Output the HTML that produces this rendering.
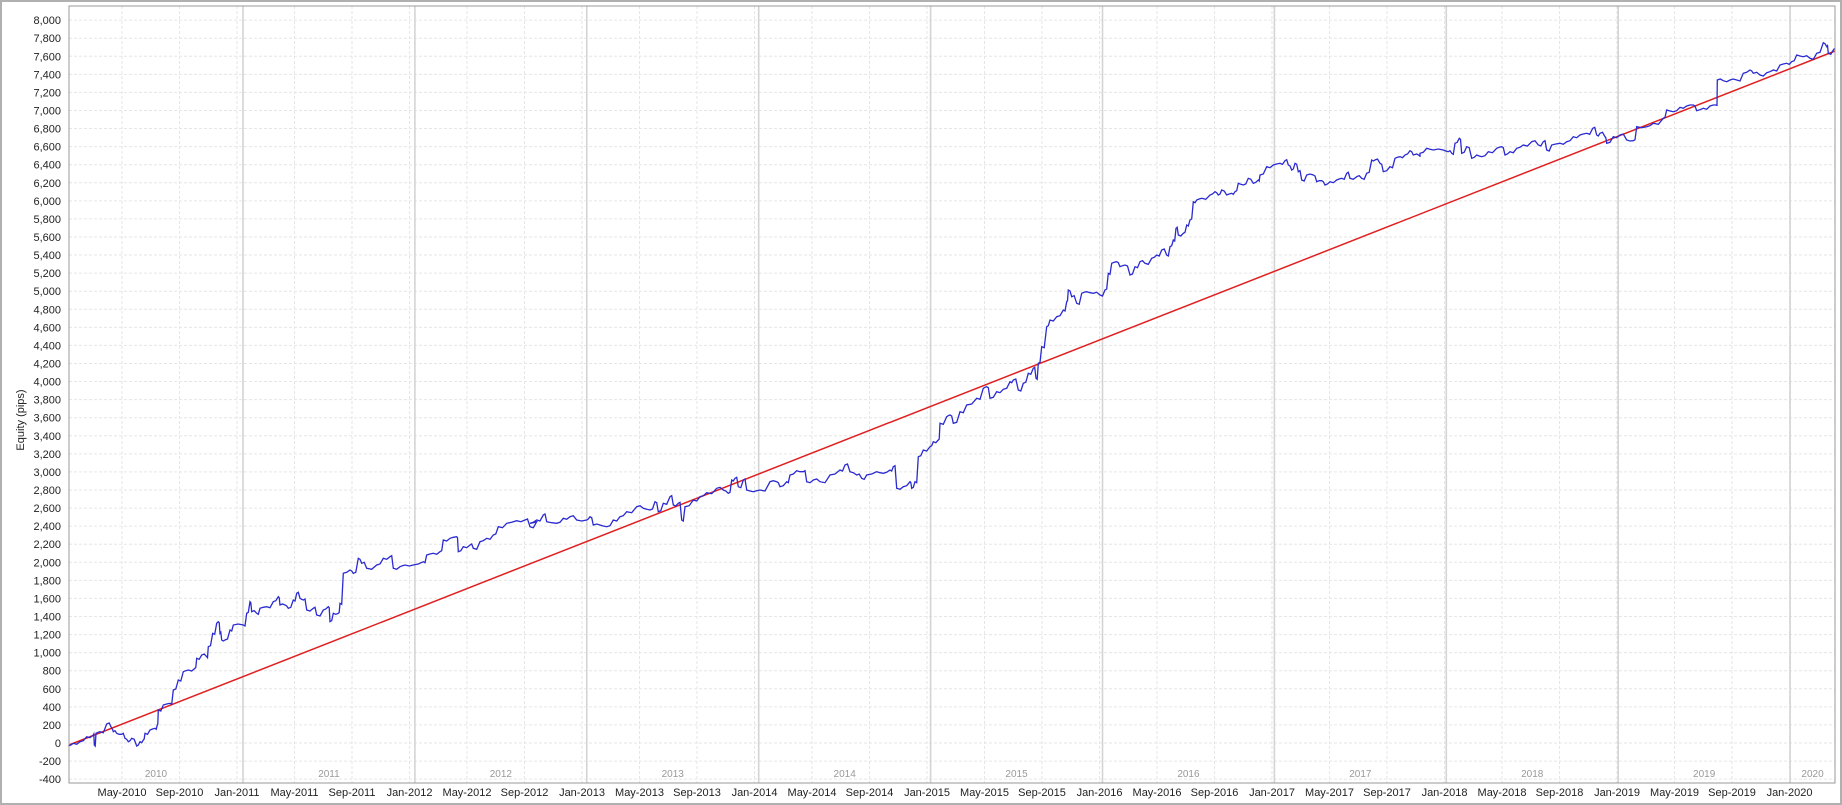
<!DOCTYPE html>
<html><head><meta charset="utf-8"><style>
html,body{margin:0;padding:0;background:#fff;}
svg{display:block;font-family:"Liberation Sans",Arial,sans-serif;}
</style></head><body>
<svg id="s" width="1842" height="805" viewBox="0 0 1842 805" xmlns="http://www.w3.org/2000/svg">
<rect x="0" y="0" width="1842" height="805" fill="#fff"/>
<rect x="1" y="1" width="1840" height="803" fill="none" stroke="#b0b0b0" stroke-width="2"/>
<g id="grid"></g>
<g id="ylab" font-size="11" fill="#222" text-anchor="end"></g>
<g id="xlab" font-size="11" fill="#222" text-anchor="middle"></g>
<g id="yrlab" font-size="10" fill="#999" text-anchor="middle"></g>
<text x="24" y="420" font-size="11" fill="#222" text-anchor="middle" transform="rotate(-90 24 420)">Equity (pips)</text>
<line x1="69" y1="745" x2="1835" y2="51" stroke="#e02020" stroke-width="1.5"/>
<path id="eq" fill="none" stroke="#2a2ad0" stroke-width="1.3" d=""/>
<rect x="69" y="6" width="1766" height="777" fill="none" stroke="#999" stroke-width="1"/>
</svg>
<script>
var NS="http://www.w3.org/2000/svg";
function el(p,t,a,txt){var e=document.createElementNS(NS,t);for(var k in a)e.setAttribute(k,a[k]);if(txt!==undefined)e.textContent=txt;document.getElementById(p).appendChild(e);}
function Y(p){return 743-p*0.09036;}
for(var p=-400;p<=8000;p+=200){var y=Y(p);
 el("grid","line",{x1:69,x2:1835,y1:y,y2:y,stroke:"#e6e6e6","stroke-dasharray":"3,2","stroke-width":1});
 el("ylab","text",{x:61,y:y+4},p.toLocaleString("en-US"));}
var mons=["Jan","May","Sep"];
for(var k=-2;k<=27;k++){var x=237+k*57.5; if(x<70||x>1834)continue;
 el("grid","line",{x1:x,x2:x,y1:6,y2:783,stroke:"#e6e6e6","stroke-dasharray":"3,2","stroke-width":1});
 var m=((k%3)+3)%3, yr=2011+Math.floor(k/3);
 el("xlab","text",{x:x,y:796},mons[m]+"-"+yr);}
var yl=[69];for(var i=0;i<10;i++){yl.push(243+i*171.9);}yl.push(1835);
for(var i=1;i<yl.length-1;i++)el("grid","line",{x1:yl[i],x2:yl[i],y1:6,y2:783,stroke:"#d4d4d4","stroke-width":1.6});
for(var i=0;i<yl.length-1;i++)el("yrlab","text",{x:(yl[i]+yl[i+1])/2,y:777},String(2010+i));
var segs=[
[60,400,[25,1038,40,1030,60,1025,80,1010,100,1005,103,1035,108,1000,120,995,140,972,155,985,160,995,170,1000,185,1003,195,1015,205,1025,215,1015,230,1038,240,1025,250,1020,255,1000,270,990,285,985,292,975,295,930,310,915,330,910,340,870,355,840,370,815,385,810,405,805,410,775,425,765,440,770,445,740,458,700,470,670,475,665,480,700,485,720,495,720,510,690,520,675,550,675,560,640,570,605,575,635,590,640,600,625,620,620,640,605,655,590,660,615,675,615,685,625,700,600,710,580,720,595,730,600,740,630,760,625,770,645,790,630,805,620,810,665,820,640,835,640,840,610,850,520,870,510,880,520,895,475,905,490,920,505,950,495,970,475,990,470,1000,505,1020,500,1035,495,1060,495,1090,485,1100,465,1120,460,1140,455,1150,420,1170,415,1190,410,1195,455,1210,440,1230,435,1240,445,1260,425,1280,415,1300,405,1315,380,1340,370,1370,362,1395,360,1410,380,1430,365]],
[530,300,[0,670,20,660,40,645,50,665,80,670,100,655,120,650,140,660,170,660,180,650,190,675,210,675,230,680,250,660,270,650,290,635,320,620,340,625,360,630,375,605,385,635,400,610,420,590,430,615,445,610,455,660,465,620,490,600,510,590,530,578,560,565,580,570,595,580,605,540,615,535,625,560,640,540,650,570,670,575,690,570,720,545,740,545,750,560,770,545,780,525,800,512,820,515,830,545,850,540,870,545,900,525,930,510,945,495,960,515,980,525,995,535,1010,525,1040,515,1060,520,1080,510,1090,500,1100,565,1120,560,1140,545,1145,565,1155,545,1165,470,1180,450,1200,440,1210,425,1225,420,1230,370,1250,350,1260,345,1270,370,1290,335,1310,315,1340,295,1360,265,1370,260,1380,295,1400,275,1420,268,1440,245]],
[1000,130,[40,750,55,780,70,760,85,730,100,715,108,745,115,700,125,650,140,590,150,570,170,560,190,540,200,515,205,480,215,500,230,520,245,490,260,485,280,490,300,495,315,480,325,430,335,400,350,395,360,410,375,405,390,435,405,410,420,395,435,400,455,385,470,375,485,360,500,375,510,350,520,330,528,295,535,315,550,310,560,285,570,270,580,215,590,210,605,205,630,195,645,185,655,195,665,180,680,195,695,190,705,185,715,160,730,165,745,145,760,160,775,150,780,135,800,110,820,105,840,100,855,92,865,105,875,120,885,100,895,125,905,150,920,135,940,135,950,155,965,152,975,165,990,155,1010,150,1025,145,1040,130,1050,145,1070,140,1085,145,1100,130,1115,90,1125,90,1140,100,1150,125,1170,110,1185,85,1200,80,1215,75,1230,62,1240,75,1260,78]],
[1400,20,[60,400,80,385,100,390,130,390,145,395,155,400,165,370,178,355,185,400,200,380,215,415,230,405,245,410,265,395,290,385,305,380,315,405,330,395,350,385,370,375,395,365,415,375,430,365,440,390,455,375,480,370,500,365,520,350,540,345,560,340,578,325,590,345,600,340,615,350,620,370,640,350,660,345,680,360,700,362,710,320,740,320,760,310,790,295,800,270,820,275,840,262,860,258,880,255,890,272,910,265,930,258,950,255,952,180,970,182,990,180,1010,180,1030,160,1050,150,1060,160,1080,165,1100,158,1120,150,1140,135,1160,130,1175,125,1190,105,1210,110,1230,115,1250,100,1270,68,1280,80,1285,100,1300,90,1305,85]]];
var d="",first=true,px=0,py=0;
segs.forEach(function(s){var a=s[2];for(var i=0;i<a.length;i+=2){var x=s[0]+a[i]/3,y=s[1]+a[i+1]/3;
 if(first){d+="M"+x.toFixed(1)+","+y.toFixed(1);first=false;}else{
 var mx=(px+x)/2; var jy=py+((i%4)?-1:1);
 d+="L"+mx.toFixed(1)+","+jy.toFixed(1)+"L"+x.toFixed(1)+","+y.toFixed(1);}
 px=x;py=y;}});
document.getElementById("eq").setAttribute("d",d);
</script>
</body></html>
